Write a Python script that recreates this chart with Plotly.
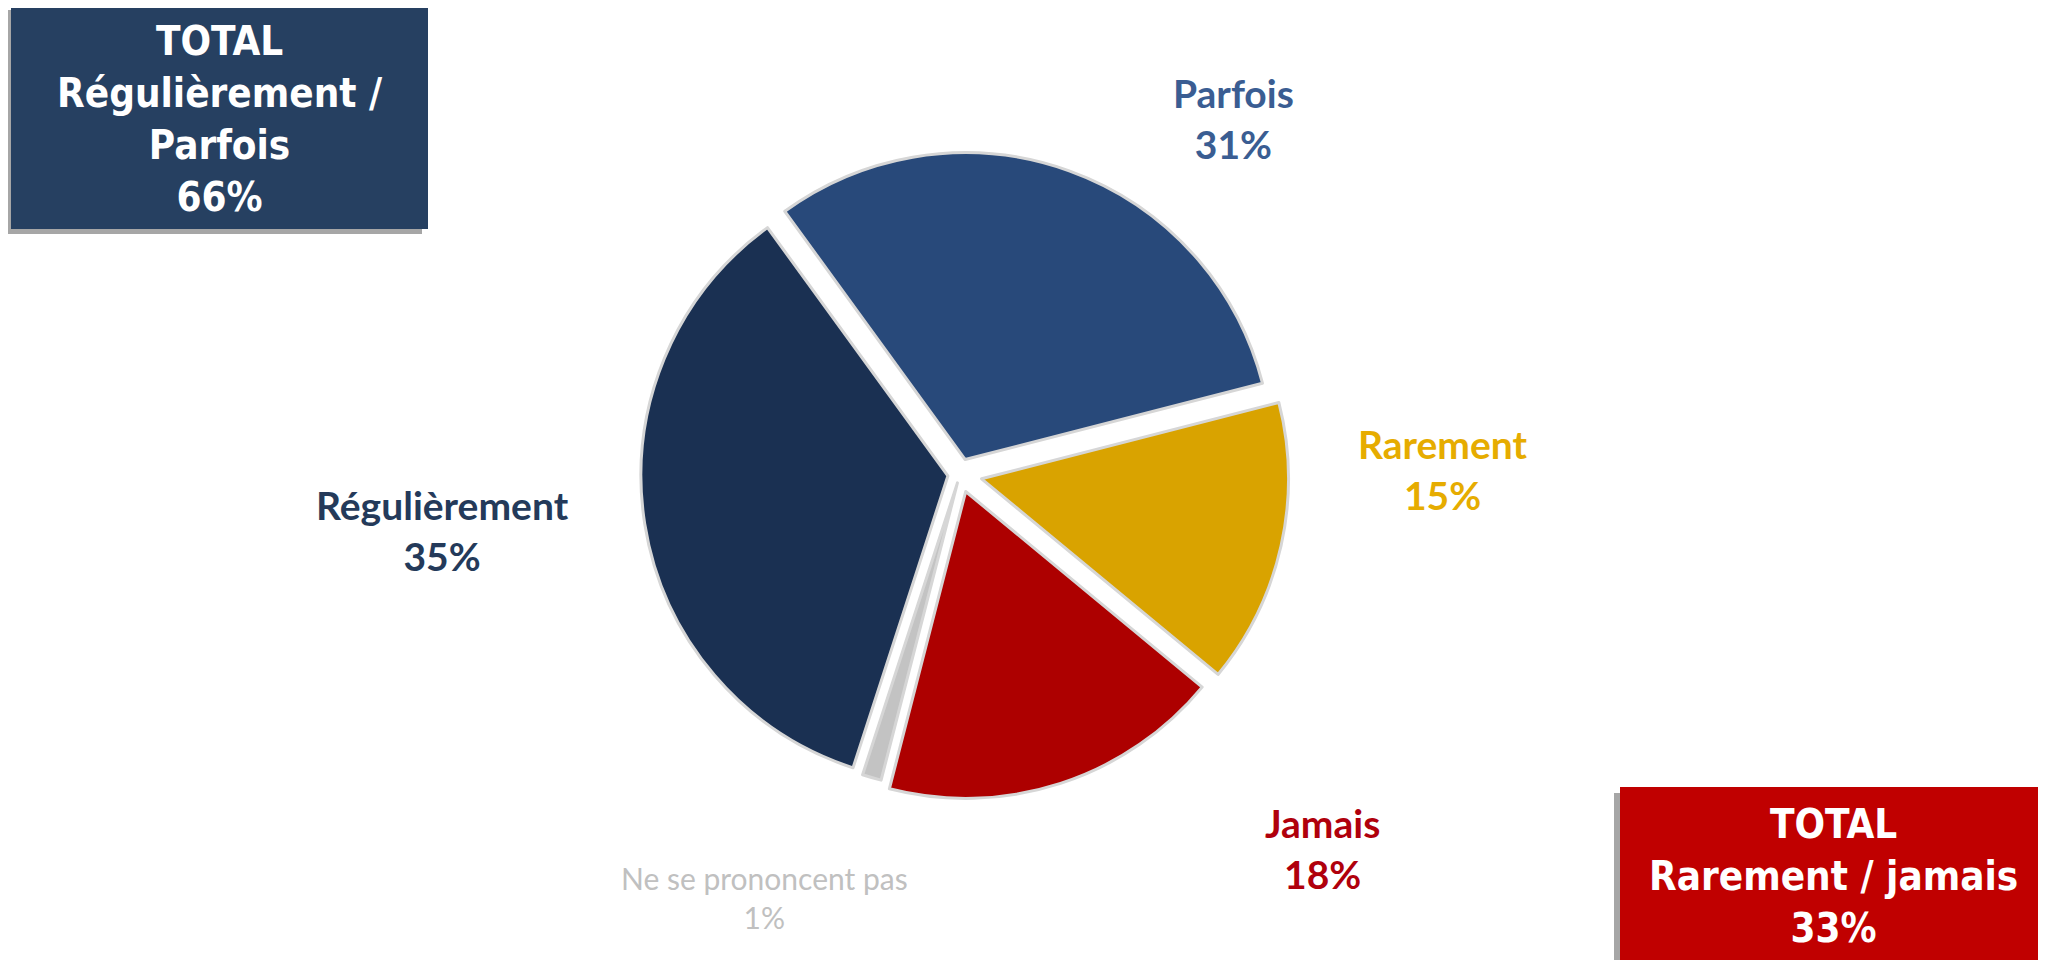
import plotly.graph_objects as go

# survey answers (share of respondents, %)
categories = ["Régulièrement", "Parfois", "Rarement", "Jamais", "Ne se prononcent pas"]
values = [35, 31, 15, 18, 1]

# totals shown in the two corner boxes
total_titles = ["Régulièrement /<br>Parfois", "Rarement / jamais"]
total_values = [66, 33]

W, H = 2046, 960
OFF = 8  # default body margin of the html page

slice_colors = ["#1a3052", "#28497a", "#d9a300", "#ad0000", "#c3c3c3"]
label_colors = ["#243a5a", "#3a5d92", "#e6ac00", "#b0000c", "#c0c0c0"]
pulls = [0.04, 0.05, 0.072, 0.06, 0.03]
# label centres in pixels (x from left, y from top)
label_pos = [(442, 530), (1233, 118), (1443, 469), (1322, 848), (764, 897)]
label_size = [39, 39, 39, 39, 30]


def px(x):
    return (x - OFF) / W


def py(y):
    return 1 - (y - OFF) / H


fig = go.Figure()

# pie centred at (960, 474), radius ~307 px
cx, cy, half = 960, 474, 329
fig.add_trace(
    go.Pie(
        labels=categories,
        values=values,
        sort=False,
        direction="clockwise",
        rotation=198,
        pull=pulls,
        marker=dict(colors=slice_colors, line=dict(color="#d6d6d6", width=3)),
        textinfo="none",
        hoverinfo="label+percent",
        showlegend=False,
        domain=dict(x=[px(cx - half), px(cx + half)], y=[py(cy + half), py(cy - half)]),
    )
)

annotations = []
for cat, val, col, (lx, ly), size in zip(categories, values, label_colors, label_pos, label_size):
    if size >= 36:
        text = f"<b>{cat}</b><br><b>{val}%</b>"
    else:
        text = f"{cat}<br>{val}%"
    annotations.append(
        dict(
            x=px(lx), y=py(ly), xref="paper", yref="paper",
            text=text, showarrow=False,
            xanchor="center", yanchor="middle", align="center",
            font=dict(family="Lato, Calibri, sans-serif", size=size, color=col),
        )
    )

# corner boxes: (x0, y0, x1, y1, fill, text centre y)
boxes = [
    (11, 4, 428, 229, "#264061", 119),
    (1620, 787, 2060, 975, "#c00000", 876),
]
shapes = []
for (x0, y0, x1, y1, fill, ty), title, tot in zip(boxes, total_titles, total_values):
    shapes.append(dict(type="rect", xref="paper", yref="paper",
                       x0=px(x0 - 6), x1=px(x1 - 6), y0=py(y0 + 6), y1=py(y1 + 5),
                       fillcolor="#a6a6a6", line=dict(width=0), layer="below"))
    shapes.append(dict(type="rect", xref="paper", yref="paper",
                       x0=px(x0), x1=px(x1), y0=py(y0), y1=py(y1),
                       fillcolor=fill, line=dict(width=0), layer="below"))
    annotations.append(
        dict(
            x=px((x0 + min(x1, W)) / 2), y=py(ty), xref="paper", yref="paper",
            text=f"<b>TOTAL<br>{title}<br>{tot}%</b>", showarrow=False,
            xanchor="center", yanchor="middle", align="center",
            font=dict(family="DejaVu Sans Condensed, DejaVu Sans, sans-serif", size=40, color="white"),
        )
    )

fig.update_layout(
    width=W,
    height=H,
    margin=dict(l=0, r=0, t=0, b=0),
    paper_bgcolor="white",
    plot_bgcolor="white",
    shapes=shapes,
    annotations=annotations,
)

fig.write_html("out.html")
